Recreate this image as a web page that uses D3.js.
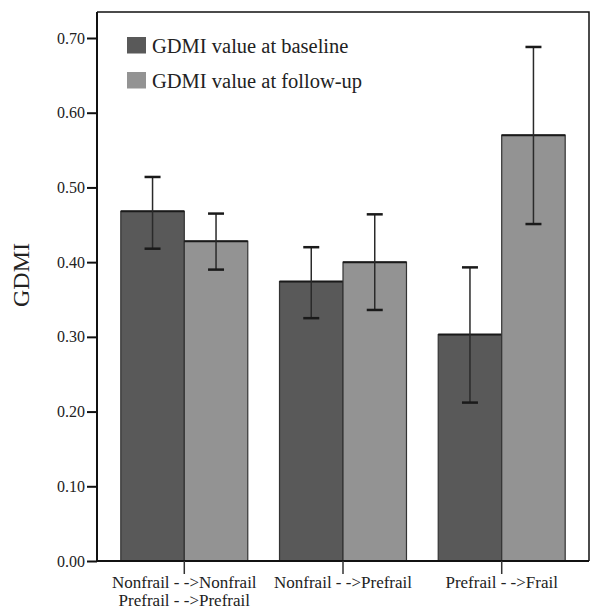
<!DOCTYPE html>
<html><head><meta charset="utf-8">
<script src="https://cdn.jsdelivr.net/npm/d3@7"></script>
<style>body{margin:0;background:#fff}svg{display:block}text{font-family:"Liberation Serif","Times New Roman",serif;fill:#222}</style>
</head><body>
<script>
const categories = [["Nonfrail - ->Nonfrail","Prefrail - ->Prefrail"],["Nonfrail - ->Prefrail"],["Prefrail - ->Frail"]];
const seriesNames = ["GDMI value at baseline","GDMI value at follow-up"];
const baseline = [0.468, 0.374, 0.303];
const baselineLow = [0.418, 0.325, 0.212];
const baselineHigh = [0.514, 0.420, 0.393];
const followup = [0.428, 0.400, 0.570];
const followupLow = [0.390, 0.336, 0.451];
const followupHigh = [0.465, 0.464, 0.688];
const yTicks = [0,0.1,0.2,0.3,0.4,0.5,0.6,0.7];
const colors = ["#595959","#939393"];

const W=590,H=609;
const L=97,R=589,T=12,B=561;
const svg=d3.select("body").append("svg").attr("width",W).attr("height",H);
const idx=[0,1,2];
const x=d3.scaleBand().domain(idx).range([L,R]).paddingInner(0.2).paddingOuter(0.15);
const xs=d3.scaleBand().domain([0,1]).range([0,x.bandwidth()]);
const y=d3.scaleLinear().domain([0,0.7]).range([B,38]);

svg.append("path").attr("d",`M${L},${T}H${R}V${B}`).attr("fill","none").attr("stroke","#111").attr("stroke-width",1.5);

const series=[{v:baseline,lo:baselineLow,hi:baselineHigh},{v:followup,lo:followupLow,hi:followupHigh}];
series.forEach((s,si)=>{
  const g=svg.append("g");
  g.selectAll("rect").data(idx).join("rect")
    .attr("x",i=>x(i)+xs(si)).attr("width",xs.bandwidth())
    .attr("y",i=>y(s.v[i])).attr("height",i=>B-y(s.v[i]))
    .attr("fill",colors[si]).attr("stroke","#333").attr("stroke-width",1.2);
  g.selectAll("line.top").data(idx).join("line")
    .attr("x1",i=>x(i)+xs(si)).attr("x2",i=>x(i)+xs(si)+xs.bandwidth())
    .attr("y1",i=>y(s.v[i])).attr("y2",i=>y(s.v[i])).attr("stroke","#1a1a1a").attr("stroke-width",2);
});
series.forEach((s,si)=>{
  const g=svg.append("g");
  const cx=i=>x(i)+xs(si)+xs.bandwidth()/2;
  g.selectAll("line.v").data(idx).join("line")
    .attr("x1",cx).attr("x2",cx).attr("y1",i=>y(s.lo[i])).attr("y2",i=>y(s.hi[i]))
    .attr("stroke","#2a2a2a").attr("stroke-width",1.5);
  [s.lo,s.hi].forEach(arr=>{
    g.selectAll(null).data(idx).join("line")
      .attr("x1",i=>cx(i)-8).attr("x2",i=>cx(i)+8).attr("y1",i=>y(arr[i])).attr("y2",i=>y(arr[i]))
      .attr("stroke","#1a1a1a").attr("stroke-width",2.5);
  });
});

const ya=svg.append("g").attr("transform",`translate(${L},0)`)
  .call(d3.axisLeft(y).tickValues(yTicks).tickFormat(d3.format(".2f")).tickSize(10).tickSizeOuter(0));
ya.select(".domain").attr("stroke","#111").attr("stroke-width",2).attr("d",`M0,${T}V${B}`);
ya.selectAll(".tick line").attr("stroke","#111").attr("stroke-width",2);
ya.selectAll(".tick text").attr("font-size",16).attr("x",-12).style("font-family","Liberation Serif").attr("fill","#222");

const xa=svg.append("g").attr("transform",`translate(0,${B})`)
  .call(d3.axisBottom(x).tickSize(13).tickSizeOuter(0).tickFormat(""));
xa.select(".domain").attr("stroke","#111").attr("stroke-width",2).attr("d",`M${L},0H${R}`);
xa.selectAll(".tick line").attr("stroke","#333").attr("stroke-width",1.5);
xa.selectAll(".tick").each(function(i){
  const t=d3.select(this).append("text").attr("text-anchor","middle").attr("font-size",17).attr("fill","#222")
    .style("font-family","Liberation Serif");
  categories[i].forEach((line,k)=>t.append("tspan").attr("x",0).attr("y",27+k*18).text(line));
});

svg.append("text").attr("transform","translate(29,275) rotate(-90)").attr("text-anchor","middle")
  .attr("font-size",24).text("GDMI");

const lg=svg.append("g");
seriesNames.forEach((n,k)=>{
  lg.append("rect").attr("x",127).attr("y",37+k*35).attr("width",19).attr("height",16.5).attr("fill",colors[k]);
  lg.append("text").attr("x",152).attr("y",53+k*35).attr("font-size",20.5).text(n);
});
</script>
</body></html>
